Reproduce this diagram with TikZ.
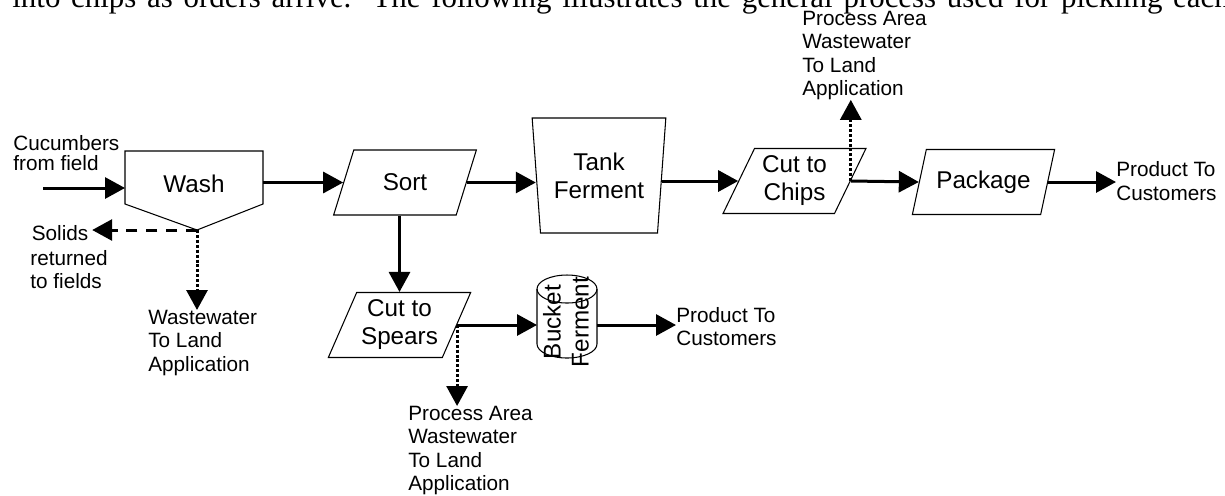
\documentclass[tikz,border=0pt]{standalone}
\usepackage{fontspec}
\setmainfont{Liberation Sans}
\newfontfamily\bodyserif{Liberation Serif}
\usetikzlibrary{shapes.geometric}
\usetikzlibrary{arrows.meta}
\newcommand\bigtext{\fontsize{13.8}{15.9}\selectfont}
\newcommand\smalltext{\fontsize{11.8}{13.2}\selectfont}

\begin{document}
\begin{tikzpicture}[x=0.02cm, y=-0.02cm,
				flow/.style={black, line width=0.06cm, -{Triangle[length=0.4cm, width=0.42cm]}},
				spill/.style={flow, dash pattern=on 6.5pt off 4.8pt},
				drain/.style={flow, dash pattern=on 1.7pt off 1.1pt},
				outline/.style={draw, line width=0.6pt},
				para/.style={outline, trapezium, trapezium left angle=63, trapezium right angle=117, trapezium stretches=true, minimum width=2.86cm, minimum height=1.3cm, inner sep=0pt, align=center, font=\bigtext},
				tank/.style={outline, trapezium, trapezium left angle=98, trapezium right angle=98, trapezium stretches=true, minimum width=2.68cm, minimum height=2.3cm, inner sep=0pt, align=center, font=\bigtext},
				note/.style={align=left, font=\smalltext, inner sep=0pt}]
				\useasboundingbox (0,0) rectangle (1225,495);
				\node (P) at (12,7)[anchor=base west, inner sep=0pt, font=\bodyserif\fontsize{17.6}{20}\selectfont]{\spaceskip=6.1pt\relax into chips as orders arrive.\hspace{12pt}The following illustrates the general process used for pickling each};
				\node (A) at (13,135)[note, anchor=north west]{Cucumbers\\[-1.5pt]from field};
				\node (W) at (194,177.5)[minimum width=2.76cm, minimum height=1.06cm, text height=0.62cm, inner sep=0pt, outer sep=0pt, font=\bigtext]{Wash};
				\coordinate (A0) at (43,188);
				\coordinate (W0) at (197,230);
				\draw [outline](W.south west) -- (W.north west) -- (W.north east) -- (W.south east) -- (W0) -- cycle;
				\node (S) at (405,182.5)[para]{Sort};
				\node (T) at (599,175.5)[tank]{Tank\\Ferment};
				\node (C) at (794.5,181)[para]{Cut to\\Chips};
				\node (K) at (983.5,182)[para]{Package};
				\node (Y) at (399.5,325)[para]{Cut to\\Spears};
				\node (B) at (567,316.5)[minimum width=1.2cm, minimum height=1.66cm, inner sep=0pt, outer sep=0pt]{};
				\draw [outline](B.north west) ++(0,14) -- ++(0,55) arc[start angle=180, end angle=360, x radius=0.6cm, y radius=0.28cm] -- ++(0,-55);
				\draw [outline]([yshift=-0.28cm]B.north) ellipse [x radius=0.6cm, y radius=0.28cm];
				\node (F) at (566,322)[rotate=90, align=center, inner sep=0pt, font=\bigtext]{Bucket\\Ferment};
				\node (O) at (28,233)[note, anchor=west, inner sep=2pt]{Solids};
				\node (N) at (30,250)[note, anchor=north west]{returned\\to fields};
				\node (V) at (148,310)[note, anchor=north west]{Wastewater\\To Land\\Application};
				\node (L) at (802,11)[note, anchor=north west]{Process Area\\Wastewater\\To Land\\Application};
				\node (M) at (408,406)[note, anchor=north west]{Process Area\\Wastewater\\To Land\\Application};
				\node (R) at (1116,181)[note, anchor=west]{Product To\\Customers};
				\node (Q) at (676,326.5)[note, anchor=west]{Product To\\Customers};
				\draw [flow](A0) -- (A0 -| W.west);
				\draw [flow](W.east |- S.west) -- (S.west);
				\draw [flow](S.east) -- (S.east -| T.west);
				\draw [flow](T.east |- C.west) -- (C.west);
				\draw [flow](C.east) -- (K.west);
				\draw [flow](K.east) -- (K.east -| R.west);
				\draw [flow](Y.north |- S.south) -- (Y.north);
				\draw [flow](Y.east) -- (Y.east -| B.west);
				\draw [flow](Y.east -| B.east) -- (Y.east -| Q.west);
				\draw [spill](W0) -- (W0 -| O.east);
				\draw [drain](W0) -- (W0 |- V.north);
				\draw [drain](C.east) -- (C.east |- L.south);
				\draw [drain](Y.east) -- (Y.east |- M.north);
			\end{tikzpicture}
\end{document}
